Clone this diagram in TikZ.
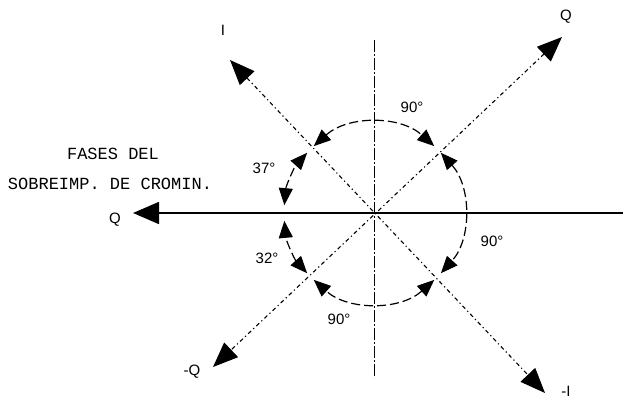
\documentclass[tikz,border=0pt]{standalone}
\usepackage{fontspec}
\setmainfont{Liberation Sans}
\newfontfamily\monof{Liberation Mono}
\usetikzlibrary{arrows.meta}
\begin{document}
\begin{tikzpicture}[x=1pt,y=-1pt,
  axisline/.style={line width=1.6pt},
  diag/.style={line width=1.1pt, dash pattern=on 4pt off 3pt on 1.2pt off 3pt},
  vert/.style={line width=1pt, dash pattern=on 12pt off 2pt on 2pt off 2pt},
  circarc/.style={line width=1.2pt, dash pattern=on 9pt off 4pt,
    {Triangle[length=17pt,width=14pt]}-{Triangle[length=17pt,width=14pt]}},
  bigtips/.style={{Triangle[length=25pt,width=20pt]}-{Triangle[length=25pt,width=20pt]}},
  lbl/.style={font=\fontsize{15}{15}\selectfont, inner sep=0pt},
  ttl/.style={font=\monof\fontsize{17}{17}\selectfont, inner sep=0pt}]
\useasboundingbox (0,0) rectangle (623,399);
\coordinate (O) at (374,213);
\coordinate (Ip) at (230,60);
\coordinate (Im) at (545,393);
\coordinate (Qp) at (562,37);
\coordinate (Qm) at (213,367);
\coordinate (L) at (133,213);
\coordinate (R) at (623,213);
\coordinate (T) at (374,40);
\coordinate (B) at (374,378);
% axes
\draw[axisline, -{Triangle[length=26pt,width=22pt]}] (R) -- (L);
\draw[vert] (T) -- (B);
\draw[diag, bigtips] (Ip) -- (Im);
\draw[diag, bigtips] (Qp) -- (Qm);
% circle arcs
\draw[circarc] (O) ++(-132:90) arc[start angle=-132, end angle=-48, radius=90];
\draw[circarc] (O) ++(-42:90) arc[start angle=-42, end angle=42, radius=90];
\draw[circarc] (O) ++(48:90) arc[start angle=48, end angle=132, radius=90];
\draw[circarc] (O) ++(138:90) arc[start angle=138, end angle=175, radius=90];
\draw[circarc] (O) ++(185:90) arc[start angle=185, end angle=222, radius=90];
% axis labels
\node[lbl] (lI) at (223,30) {I};
\node[lbl] (lQ) at (566,17) {Q};
\node[lbl] (lmQ) at (192,372) {-Q};
\node[lbl] (lmI) at (566,391) {-I};
\node[lbl] (l0) at (115,220) {Q};
% angle labels
\node[lbl] (a1) at (412,107) {90°};
\node[lbl] (a2) at (492,241) {90°};
\node[lbl] (a3) at (339,319) {90°};
\node[lbl] (a4) at (264,168) {37°};
\node[lbl] (a5) at (267,258) {32°};
% title
\node[ttl] (t1) at (113,154) {FASES DEL};
\node[ttl] (t2) at (110,184) {SOBREIMP. DE CROMIN.};
\end{tikzpicture}
\end{document}
